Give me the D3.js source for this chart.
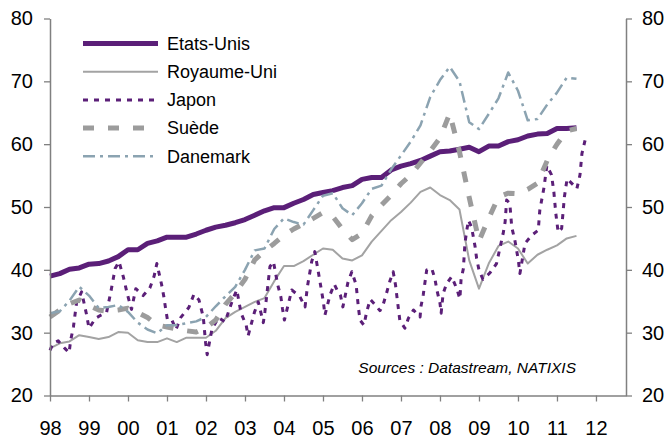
<!DOCTYPE html>
<html>
<head>
<meta charset="utf-8">
<script src="https://cdn.jsdelivr.net/npm/d3@7"></script>
<style>
  body { margin: 0; background: #fff; }
  svg { display: block; font-family: "Liberation Sans", Arial, sans-serif; }
</style>
</head>
<body>
<div id="vis"></div>
<script>
// frame
const FRAME_WIDTH = 667;
const FRAME_HEIGHT = 441;

// quarterly series, 1998Q1 .. 2011Q3
const START_YEAR = 1998;
const usValues = [39.0,39.4,40.1,40.3,40.9,41.0,41.4,42.1,43.2,43.2,
                  44.2,44.6,45.2,45.2,45.2,45.7,46.3,46.8,47.1,47.5,
                  48.0,48.7,49.4,49.9,49.9,50.6,51.2,52.0,52.3,52.6,
                  53.1,53.4,54.4,54.7,54.7,55.9,56.5,56.9,57.4,58.1,
                  58.8,58.9,59.2,59.5,58.8,59.7,59.7,60.4,60.7,61.3,
                  61.6,61.7,62.5,62.5,62.6];
const ukValues = [27.5,28.3,28.6,29.6,29.3,29.0,29.3,30.1,30.0,28.8,
                  28.5,28.5,29.1,28.5,29.2,29.2,29.2,30.3,32.3,33.3,
                  34.1,34.9,35.5,38.2,40.6,40.6,41.4,42.4,43.4,43.2,
                  41.8,41.5,42.3,44.5,46.2,47.9,49.2,50.7,52.4,53.1,
                  51.9,51.1,49.6,41.5,37.0,41.0,43.8,44.5,43.4,41.0,
                  42.4,43.2,43.9,45.0,45.4];
const seValues = [32.5,33.6,34.6,35.2,34.3,33.6,33.4,33.6,33.9,33.2,
                  32.4,31.2,30.9,30.6,30.3,30.1,30.8,32.0,34.5,36.3,
                  38.5,41.6,43.0,44.2,45.5,46.5,47.3,48.2,49.1,48.5,
                  46.5,44.8,45.8,48.6,50.3,51.9,53.7,55.1,57.0,58.9,
                  61.0,64.9,58.8,51.5,44.6,48.2,51.6,52.2,52.1,52.8,
                  53.8,57.4,60.0,62.1,62.5];
const dkValues = [33.1,33.4,35.1,37.3,35.9,33.9,34.1,34.4,33.3,31.6,
                  30.5,29.9,31.2,31.2,31.5,31.8,32.5,34.2,35.8,37.3,
                  40.0,43.1,43.4,46.5,48.2,47.6,47.2,49.5,51.8,52.2,
                  49.8,48.7,50.6,52.9,53.4,56.0,58.2,60.4,63.0,67.5,
                  70.2,72.3,70.0,63.5,62.4,64.8,67.3,71.4,68.5,63.8,
                  64.0,66.3,68.2,70.6,70.4];

// Japan: irregular readings (decimal year, value)
const jpYears = [1998.00,1998.08,1998.21,1998.38,1998.49,1998.53,1998.60,1998.68,1998.81,1998.94,
                 1999.00,1999.17,1999.31,1999.45,1999.56,1999.67,1999.77,1999.88,1999.98,2000.09,
                 2000.20,2000.39,2000.56,2000.67,2000.74,2000.86,2000.92,2000.96,2001.01,2001.12,
                 2001.23,2001.35,2001.56,2001.69,2001.82,2001.93,2001.99,2002.03,2002.15,2002.32,
                 2002.49,2002.68,2002.79,2002.90,2003.03,2003.08,2003.24,2003.34,2003.47,2003.51,
                 2003.64,2003.73,2003.84,2003.92,2003.96,2004.01,2004.20,2004.41,2004.54,2004.60,
                 2004.71,2004.79,2004.91,2005.01,2005.05,2005.18,2005.29,2005.36,2005.45,2005.51,
                 2005.64,2005.74,2005.85,2005.91,2005.95,2006.05,2006.12,2006.21,2006.33,2006.46,
                 2006.54,2006.63,2006.72,2006.80,2006.86,2006.90,2006.97,2007.10,2007.19,2007.32,
                 2007.49,2007.51,2007.57,2007.66,2007.79,2007.87,2007.92,2008.00,2008.03,2008.08,
                 2008.17,2008.30,2008.43,2008.51,2008.54,2008.60,2008.64,2008.68,2008.73,2008.81,
                 2008.90,2008.94,2009.00,2009.10,2009.28,2009.45,2009.62,2009.67,2009.71,2009.79,
                 2009.84,2009.92,2010.01,2010.05,2010.18,2010.35,2010.52,2010.56,2010.67,2010.74,
                 2010.86,2010.92,2010.97,2011.03,2011.12,2011.19,2011.26,2011.42,2011.51,2011.59,
                 2011.64,2011.72];
const jpValues = [27.2,28.3,28.7,27.5,26.8,28.8,30.9,34.7,36.5,32.8,
                  30.7,32.3,32.8,33.2,36.5,40.2,41.3,38.9,36.2,33.7,
                  37.0,35.9,37.1,39.0,41.0,37.7,35.7,34.0,32.1,32.1,
                  30.5,32.4,34.0,36.1,35.2,32.5,28.4,26.5,30.5,32.4,
                  31.7,35.2,36.8,33.1,31.2,29.5,33.2,34.9,31.6,33.3,
                  40.5,41.3,37.6,35.7,33.9,32.0,36.8,35.7,34.1,37.3,
                  41.3,42.9,38.6,34.9,32.8,36.0,37.7,36.8,35.9,34.1,
                  38.0,39.7,37.6,33.9,32.0,31.2,33.3,35.3,34.5,33.5,
                  34.4,36.3,38.3,39.7,37.6,35.5,32.0,30.7,32.3,33.6,
                  32.5,34.1,36.0,40.0,40.2,38.6,36.8,34.7,33.1,36.2,
                  37.8,38.9,37.0,35.4,38.4,40.2,44.2,46.0,47.9,46.8,
                  43.7,41.8,40.0,38.5,39.5,41.0,45.8,47.6,51.1,50.6,
                  46.8,44.7,41.5,39.4,44.2,45.5,46.3,49.5,53.2,56.6,
                  55.1,52.4,49.0,46.0,46.6,51.6,54.5,53.5,52.9,55.1,
                  58.5,60.6];

const seriesNames = ["Etats-Unis", "Royaume-Uni", "Japon", "Suède", "Danemark"];
const xTickYears = [1998,1999,2000,2001,2002,2003,2004,2005,2006,2007,2008,2009,2010,2011,2012];
const xTickLabels = ["98","99","00","01","02","03","04","05","06","07","08","09","10","11","12"];
const yTicks = [20,30,40,50,60,70,80];

const quarterYears = usValues.map((d, i) => START_YEAR + i * 0.25);

const SERIES = [
  {name: seriesNames[0], years: quarterYears, values: usValues,
   color: "#5b1f78", width: 5, dash: null},
  {name: seriesNames[1], years: quarterYears, values: ukValues,
   color: "#a3a3a3", width: 2, dash: null},
  {name: seriesNames[2], years: jpYears, values: jpValues,
   color: "#5b1f78", width: 3, dash: "5,6"},
  {name: seriesNames[3], years: quarterYears, values: seValues,
   color: "#9c9c9c", width: 5, dash: "11,14"},
  {name: seriesNames[4], years: quarterYears, values: dkValues,
   color: "#8ba3b1", width: 2.5, dash: "12,5,3,5"}
];

const svg = d3.select("#vis")
  .append("svg")
    .attr("width", FRAME_WIDTH)
    .attr("height", FRAME_HEIGHT);

const X_SCALE = d3.scaleLinear().domain([1998, 2012.77]).range([50, 626]);
const Y_SCALE = d3.scaleLinear().domain([20, 80]).range([395.5, 18.5]);

const AXIS_COLOR = "#808080";

// lines
const line = d3.line()
  .x(d => X_SCALE(d[0]))
  .y(d => Y_SCALE(d[1]));

SERIES.forEach(s => {
  const pts = s.values.map((v, i) => [s.years[i], v]);
  svg.append("path")
    .datum(pts)
    .attr("fill", "none")
    .attr("stroke", s.color)
    .attr("stroke-width", s.width)
    .attr("stroke-linejoin", "round")
    .attr("stroke-dasharray", s.dash)
    .attr("d", line);
});

// axes
function styleAxis(g) {
  g.selectAll("path.domain").attr("stroke", AXIS_COLOR).attr("stroke-width", 1.5);
  g.selectAll(".tick line").attr("stroke", AXIS_COLOR).attr("stroke-width", 1.3);
  g.selectAll(".tick text")
    .attr("fill", "#000")
    .attr("font-size", "20px")
    .attr("font-family", "'Liberation Sans', Arial, sans-serif");
}

svg.append("g")
  .attr("transform", "translate(50,0)")
  .call(d3.axisLeft(Y_SCALE).tickValues(yTicks).tickSize(6).tickSizeOuter(0).tickPadding(11))
  .call(styleAxis);

svg.append("g")
  .attr("transform", "translate(626,0)")
  .call(d3.axisRight(Y_SCALE).tickValues(yTicks).tickSize(6).tickSizeOuter(0).tickPadding(10))
  .call(styleAxis);

svg.append("g")
  .attr("transform", "translate(0,395.5)")
  .call(d3.axisBottom(X_SCALE).tickValues(xTickYears)
        .tickFormat((d, i) => xTickLabels[i])
        .tickSize(6).tickSizeOuter(0).tickPadding(19))
  .call(styleAxis);

// legend
const legend = svg.append("g");
SERIES.forEach((s, i) => {
  const y = 43.5 + i * 28.2;
  legend.append("line")
    .attr("x1", 83).attr("x2", 158)
    .attr("y1", y).attr("y2", y)
    .attr("stroke", s.color)
    .attr("stroke-width", s.width)
    .attr("stroke-dasharray", s.dash);
  legend.append("text")
    .attr("x", 167).attr("y", y)
    .attr("dy", "0.35em")
    .attr("font-size", "18px")
    .attr("fill", "#000")
    .text(s.name);
});

// source note
svg.append("text")
  .attr("x", 576).attr("y", 373)
  .attr("text-anchor", "end")
  .attr("font-size", "15.5px")
  .attr("font-style", "italic")
  .attr("fill", "#000")
  .text("Sources : Datastream, NATIXIS");
</script>
</body>
</html>
